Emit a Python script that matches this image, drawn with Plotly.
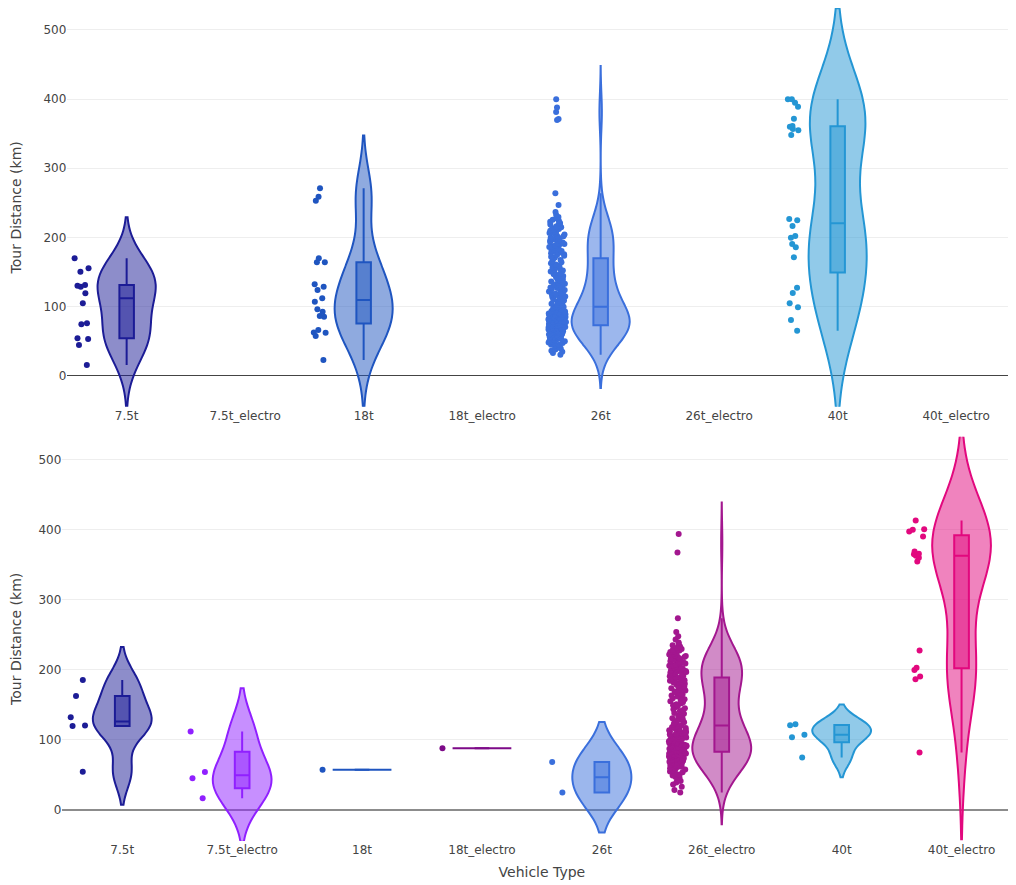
import plotly.graph_objects as go

categories = ["7.5t", "7.5t_electro", "18t", "18t_electro", "26t", "26t_electro", "40t", "40t_electro"]

colors = {
    "7.5t": "#1c1c96",
    "7.5t_electro": "#9020ff",
    "18t": "#1f55c0",
    "18t_electro": "#7d0a88",
    "26t": "#3a6fdc",
    "26t_electro": "#a3178f",
    "40t": "#2496d4",
    "40t_electro": "#e2087e",
}

# ---------------- top panel ----------------
top_7_5t = [169.8, 150.4, 155.3, 130.2, 128.7, 131.2, 119.2, 104.7, 74.3, 75.8, 54.1, 53.1, 44.4, 15.5]

top_18t = [271.0, 258.9, 253.1, 169.8, 164.0, 164.2, 132.2, 124.0, 128.7, 112.0, 107.0, 96.0,
           92.6, 86.3, 85.3, 62.2, 57.4, 66.0, 62.4, 22.7]

top_26t = [
    30.2, 32.8, 34.5, 36.1, 37.9, 39.4,
    40.6, 41.8, 43.2, 44.7, 45.3, 46.9, 47.5, 48.2, 49.0, 49.8,
    50.4, 51.1, 52.0, 52.7, 53.5, 54.2, 55.0, 55.6, 56.3, 57.1, 57.8, 58.4, 59.0, 59.7,
    60.2, 60.8, 61.3, 61.9, 62.4, 62.9, 63.5, 64.0, 64.4, 64.9, 65.3, 65.8, 66.2, 66.7, 67.1,
    67.5, 68.0, 68.4, 68.8, 69.2, 69.6, 69.9,
    70.2, 70.5, 70.9, 71.3, 71.6, 72.0, 72.3, 72.7, 73.0, 73.4, 73.8, 74.1, 74.5, 74.8, 75.2,
    75.6, 75.9, 76.3, 76.6, 77.0, 77.4, 77.7, 78.1, 78.5, 78.8, 79.2, 79.5, 79.9,
    80.2, 80.6, 80.9, 81.3, 81.6, 82.0, 82.4, 82.7, 83.1, 83.4, 83.8, 84.1, 84.5, 84.9, 85.2,
    85.6, 85.9, 86.3, 86.6, 87.0, 87.4, 87.7, 88.1, 88.4, 88.8, 89.2, 89.5, 89.9,
    90.4, 91.2, 92.1, 92.8, 93.7, 94.5, 95.1, 96.3, 97.0, 97.8, 98.6, 99.5,
    100.3, 101.4, 102.2, 103.5, 104.1, 105.6, 106.2, 107.4, 108.0, 108.9, 109.7,
    110.8, 111.9, 112.6, 113.8, 114.5, 115.9, 116.7, 117.4, 118.6, 119.3,
    120.5, 121.7, 122.4, 123.9, 124.6, 125.3, 126.8, 127.5, 128.9, 129.4,
    130.6, 131.9, 133.0, 134.2, 135.5, 136.1, 137.7, 138.4, 139.6,
    141.2, 142.8, 144.1, 145.5, 146.9, 148.0, 149.3,
    150.7, 152.2, 153.6, 155.0, 156.4, 157.9, 159.1,
    160.8, 162.5, 164.0, 165.7, 167.3, 169.0,
    170.9, 172.1, 173.4, 174.6, 175.8, 177.0, 178.3, 179.5,
    180.4, 181.6, 182.7, 183.9, 185.0, 186.2, 187.3, 188.5, 189.6,
    190.5, 191.4, 192.6, 193.5, 194.7, 195.6, 196.8, 197.7, 198.5, 199.4,
    200.6, 201.8, 202.9, 204.1, 205.2, 206.4, 207.5, 208.7, 209.8,
    210.9, 212.3, 213.6, 214.8, 216.1, 217.3, 218.6, 219.8,
    221.0, 222.5, 224.0, 225.4, 226.9, 228.2, 229.6,
    232.5, 236.8, 246.9, 263.8,
    369.8, 371.3, 381.4, 388.0, 400.0,
]

top_40t = [400.0, 400.0, 394.8, 389.0, 371.7, 361.2, 360.1, 356.8, 348.1, 354.9,
           226.6, 224.7, 216.5, 199.6, 202.0, 190.5, 185.7, 171.2,
           127.3, 119.6, 104.7, 98.9, 80.6, 65.1]

top_data = {
    "7.5t": top_7_5t,
    "18t": top_18t,
    "26t": top_26t,
    "40t": top_40t,
}

# ---------------- bottom panel ----------------
bot_7_5t = [185.7, 162.9, 132.4, 120.0, 120.5, 54.5]
bot_7_5t_electro = [111.9, 45.2, 54.3, 16.7]
bot_18t = [57.6]
bot_18t_electro = [88.1]
bot_26t = [68.6, 24.8]

bot_26t_electro = [
    24.8, 28.6,
    33.1, 36.4, 39.2,
    41.5, 43.8, 45.9, 47.2, 49.1,
    50.6, 52.3, 53.9, 55.1, 56.4, 57.8, 58.5, 59.6,
    60.4, 61.2, 61.9, 62.7, 63.5, 64.2, 65.0, 65.8, 66.5, 67.3, 68.0, 68.8, 69.4, 69.9,
    70.3, 70.8, 71.4, 71.9, 72.5, 73.0, 73.6, 74.1, 74.7, 75.2, 75.8, 76.3, 76.9, 77.4, 78.0,
    78.5, 79.0, 79.4, 79.7, 79.9,
    80.3, 80.8, 81.3, 81.8,
    82.4, 83.0, 83.5, 84.1, 84.6, 85.2, 85.8, 86.3, 86.9, 87.4, 88.0, 88.5, 89.0, 89.4, 89.8,
    90.4, 91.0, 91.5, 92.1, 92.7, 93.3, 93.9, 94.5, 95.1, 95.7, 96.3, 96.9, 97.5, 98.1, 98.7,
    99.2, 99.7,
    100.4, 101.0, 101.7, 102.3, 103.0, 103.6, 104.3, 104.9, 105.6, 106.2, 106.9, 107.5, 108.2,
    108.8, 109.5,
    110.4, 111.2, 112.1, 112.9, 113.8, 114.6, 115.5, 116.3, 117.2, 118.0, 118.8,
    119.6, 120.8, 121.9, 123.1, 124.3, 125.4, 126.6, 127.8, 128.9, 129.8,
    130.9, 132.2, 133.4, 134.7, 136.0, 137.3, 138.5, 139.7,
    141.1, 142.5, 144.0, 145.4, 146.8, 148.2, 149.6,
    151.0, 152.4, 153.8, 155.2, 156.6, 158.0, 159.4,
    160.8, 162.2, 163.6, 165.0, 166.4, 167.8, 169.2,
    170.5, 171.6, 172.7, 173.8, 174.9, 176.0, 177.1, 178.2, 179.3,
    180.4, 181.2, 182.0, 182.8, 183.6, 184.4, 185.2, 186.0, 186.8, 187.6,
    188.4, 189.2, 190.1, 190.9, 191.8, 192.6, 193.5, 194.3, 195.2, 196.0, 196.9, 197.7, 198.6,
    199.4,
    200.3, 201.1, 201.9, 202.7, 203.5, 204.3, 205.1, 205.9, 206.7, 207.5, 208.3, 209.1, 209.8,
    210.6, 211.5, 212.3, 213.2, 214.0, 214.9, 215.7, 216.6, 217.4, 218.3, 219.1, 219.9,
    221.0, 222.1, 223.2, 224.3, 225.4, 226.5, 227.6, 228.7, 229.8,
    231.5, 233.4, 235.3, 237.2, 239.1,
    243.6, 248.2,
    254.0, 273.8,
    367.6, 393.9,
]

bot_40t = [121.0, 122.4, 104.0, 107.5, 74.8]

bot_40t_electro = [413.3, 401.0, 397.6, 390.5, 400.0, 365.2, 365.7, 362.9, 369.0, 354.8, 360.0,
                   227.6, 203.0, 200.0, 190.5, 186.7, 81.9]

bottom_data = {
    "7.5t": bot_7_5t,
    "7.5t_electro": bot_7_5t_electro,
    "18t": bot_18t,
    "18t_electro": bot_18t_electro,
    "26t": bot_26t,
    "26t_electro": bot_26t_electro,
    "40t": bot_40t,
    "40t_electro": bot_40t_electro,
}

fig = go.Figure()

for cat in categories:
    if cat in top_data:
        vals = top_data[cat]
        fig.add_trace(go.Violin(
            x=[cat] * len(vals), y=vals, name=cat,
            line=dict(color=colors[cat], width=2),
            marker=dict(color=colors[cat], size=6),
            box_visible=True, points="all", width=0.49,
            showlegend=False, xaxis="x", yaxis="y",
        ))

for cat in categories:
    vals = bottom_data[cat]
    fig.add_trace(go.Violin(
        x=[cat] * len(vals), y=vals, name=cat,
        line=dict(color=colors[cat], width=2),
        marker=dict(color=colors[cat], size=6),
        box_visible=True, points="all", width=0.49,
        showlegend=False, xaxis="x2", yaxis="y2",
    ))

W, H = 1016, 885
FONT = '"DejaVu Sans", Verdana, sans-serif'
tick_font = dict(family=FONT, size=12, color="#444")
title_font = dict(family=FONT, size=14, color="#444")

fig.update_layout(
    template="none",
    width=W, height=H,
    margin=dict(l=0, r=0, t=0, b=0),
    paper_bgcolor="white", plot_bgcolor="white",
    font=dict(family=FONT, size=12, color="#444"),
    violinmode="overlay",
    showlegend=False,
    xaxis=dict(domain=[59.4 / W, 1007.4 / W], anchor="y",
               type="category", categoryorder="array", categoryarray=categories,
               range=[-0.5, 7.5], showgrid=False, zeroline=False, showline=False,
               ticks="", tickfont=tick_font, automargin=False),
    yaxis=dict(domain=[(H - 398.7) / H, 1.0], anchor="x",
               range=[-44.8, 531.8], tickvals=[0, 100, 200, 300, 400, 500],
               showgrid=True, gridcolor="#eee", gridwidth=1,
               zeroline=True, zerolinecolor="#444", zerolinewidth=1,
               showline=False, ticks="", tickfont=tick_font, automargin=False,
               title=dict(text="Tour Distance (km)", font=title_font, standoff=18)),
    xaxis2=dict(domain=[54.3 / W, 1013.5 / W], anchor="y2",
                type="category", categoryorder="array", categoryarray=categories,
                range=[-0.5, 7.5], showgrid=False, zeroline=False, showline=False,
                ticks="", tickfont=tick_font, automargin=False,
                title=dict(text="Vehicle Type", font=title_font, standoff=11)),
    yaxis2=dict(domain=[(H - 833) / H, (H - 428.7) / H], anchor="x2",
                range=[-44.3, 533], tickvals=[0, 100, 200, 300, 400, 500],
                showgrid=True, gridcolor="#eee", gridwidth=1,
                zeroline=True, zerolinecolor="#8c8c8c", zerolinewidth=1.6,
                showline=False, ticks="", tickfont=tick_font, automargin=False,
                title=dict(text="Tour Distance (km)", font=title_font, standoff=22)),
)

fig.write_html("out.html")
